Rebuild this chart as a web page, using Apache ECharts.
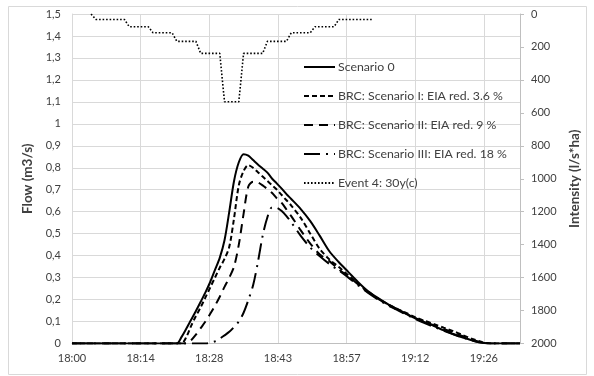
<!DOCTYPE html>
<html>
<head>
<meta charset="utf-8">
<script src="https://cdn.jsdelivr.net/npm/echarts@6/dist/echarts.min.js"></script>
<style>
  html, body { margin: 0; padding: 0; background: #ffffff; }
  #chart { width: 594px; height: 376px; }
</style>
</head>
<body>
<div id="chart"></div>
<script>
// Time in minutes after 18:00 for the flow hydrographs
const flowMinutes = [0, 20, 21, 22, 23, 24, 25, 26, 27, 28, 29, 30, 31, 32, 33, 34, 35, 36, 37, 38, 39, 40,
  41, 42, 43, 44, 45, 46, 48, 50, 52, 54, 56, 58, 60, 62, 64, 66, 68, 70, 72, 74, 76, 78, 80, 82, 84, 86, 88, 90, 94];

// Flow (m3/s)
const scenario0 = [0, 0, 0, 0, 0.03, 0.068, 0.108, 0.148, 0.19, 0.233, 0.28, 0.335, 0.39, 0.47, 0.6, 0.74, 0.825, 0.862, 0.855, 0.835, 0.815, 0.797,
  0.778, 0.75, 0.728, 0.705, 0.68, 0.658, 0.612, 0.557, 0.49, 0.42, 0.37, 0.325, 0.28, 0.24, 0.21, 0.183, 0.16, 0.137, 0.115, 0.097, 0.079, 0.06, 0.043, 0.027, 0.014, 0.003, 0, 0, 0];
const scenarioI = [0, 0, 0, 0, 0, 0.03, 0.08, 0.125, 0.165, 0.21, 0.255, 0.3, 0.345, 0.385, 0.44, 0.57, 0.72, 0.785, 0.812, 0.8, 0.78, 0.76,
  0.74, 0.72, 0.7, 0.676, 0.652, 0.628, 0.572, 0.5, 0.43, 0.383, 0.348, 0.31, 0.272, 0.238, 0.208, 0.182, 0.16, 0.14, 0.12, 0.103, 0.088, 0.072, 0.056, 0.038, 0.021, 0.007, 0, 0, 0];
const scenarioII = [0, 0, 0, 0, 0, 0, 0.015, 0.04, 0.07, 0.1, 0.135, 0.172, 0.213, 0.258, 0.3, 0.35, 0.45, 0.59, 0.715, 0.736, 0.733, 0.72,
  0.703, 0.685, 0.66, 0.64, 0.61, 0.58, 0.515, 0.455, 0.405, 0.375, 0.337, 0.305, 0.27, 0.236, 0.206, 0.18, 0.157, 0.136, 0.116, 0.098, 0.082, 0.066, 0.05, 0.033, 0.018, 0.005, 0, 0, 0];
const scenarioIII = [0, 0, 0, 0, 0, 0, 0, 0, 0, 0, 0.003, 0.01, 0.022, 0.037, 0.053, 0.075, 0.1, 0.14, 0.198, 0.265, 0.37, 0.49,
  0.575, 0.62, 0.618, 0.603, 0.58, 0.552, 0.49, 0.437, 0.397, 0.362, 0.332, 0.3, 0.265, 0.232, 0.203, 0.177, 0.155, 0.133, 0.112, 0.093, 0.075, 0.058, 0.042, 0.027, 0.014, 0.004, 0, 0, 0];

// Design storm (block rain), minutes after 18:00 and intensity (l/s*ha)
const rainMinutes = [4, 5, 11, 12, 16, 17, 21, 22, 26, 27, 31, 32, 35, 36, 40, 41, 45, 46, 50, 51, 55, 56, 63];
const rainIntensity = [0, 33, 33, 77, 77, 114, 114, 166, 166, 239, 239, 533, 533, 239, 239, 166, 166, 114, 114, 77, 77, 33, 33];

const seriesNames = [
  'Scenario 0',
  'BRC: Scenario I: EIA red. 3.6 %',
  'BRC: Scenario II: EIA red. 9 %',
  'BRC: Scenario III: EIA red. 18 %',
  'Event 4: 30y(c)'
];

const pairs = (xs, ys) => xs.map((x, i) => [x, ys[i]]);

// Axis clock labels: 18:00 plus the minute offset, truncated to whole minutes
const clockLabel = m => {
  const t = Math.floor(m + 1e-6);
  const h = 18 + Math.floor(t / 60);
  const mm = t % 60;
  return h + ':' + String(mm).padStart(2, '0');
};
const commaLabel = v => String(Math.round(v * 10) / 10).replace('.', ',');
const plainLabel = v => String(Math.round(v));

const FONT = 'Lato';
const TXT = '#404040';
const GRID = '#d9d9d9';
const AXIS = '#bfbfbf';

const flowLine = (name, values, type) => ({
  name: name,
  type: 'line',
  yAxisIndex: 0,
  data: pairs(flowMinutes, values),
  symbol: 'none',
  smooth: 0.3,
  lineStyle: { color: '#000000', width: 2, type: type, cap: 'butt' },
  itemStyle: { color: '#000000' }
});

const chart = echarts.init(document.getElementById('chart'), null, { renderer: 'canvas' });

chart.setOption({
  animation: false,
  backgroundColor: '#ffffff',
  textStyle: { fontFamily: FONT },
  graphic: [{
    type: 'rect',
    shape: { x: 8.5, y: 6.5, width: 578, height: 368 },
    style: { fill: 'none', stroke: GRID, lineWidth: 1 },
    silent: true,
    z: -10
  }],
  grid: { left: 72, right: 74, top: 14, bottom: 32.5, containLabel: false },
  legend: {
    orient: 'vertical',
    left: 298,
    top: 56,
    itemWidth: 31,
    itemHeight: 14,
    itemGap: 17,
    data: seriesNames,
    // line samples only, no marker in the middle
    itemStyle: { color: 'transparent', borderColor: 'transparent', borderWidth: 0 },
    textStyle: { fontFamily: FONT, fontSize: 12.3, color: TXT, padding: [0, 0, 0, -2] },
    inactiveColor: '#000'
  },
  xAxis: {
    type: 'value',
    min: 0,
    max: 94,
    interval: 14.4,
    axisLine: { show: true, lineStyle: { color: AXIS, width: 1 } },
    axisTick: { show: false },
    axisLabel: { formatter: clockLabel, color: TXT, fontFamily: FONT, fontSize: 11, margin: 9, showMaxLabel: false },
    splitLine: { show: true, lineStyle: { color: GRID, width: 1 } }
  },
  yAxis: [{
    type: 'value',
    min: 0,
    max: 1.5,
    interval: 0.1,
    name: 'Flow (m3/s)',
    nameLocation: 'middle',
    nameRotate: 90,
    nameGap: 34,
    nameTextStyle: { color: TXT, fontFamily: FONT, fontSize: 13.5, fontWeight: 'bold' },
    axisLine: { show: true, lineStyle: { color: GRID, width: 1 } },
    axisTick: { show: false },
    axisLabel: { formatter: commaLabel, color: TXT, fontFamily: FONT, fontSize: 11, margin: 11 },
    splitLine: { show: true, lineStyle: { color: GRID, width: 1 } }
  }, {
    type: 'value',
    position: 'right',
    inverse: true,
    min: 0,
    max: 2000,
    interval: 200,
    name: 'Intensity (l/s*ha)',
    nameLocation: 'middle',
    nameRotate: 90,
    nameGap: 46,
    nameTextStyle: { color: TXT, fontFamily: FONT, fontSize: 13.5, fontWeight: 'bold' },
    axisLine: { show: true, lineStyle: { color: AXIS, width: 1 } },
    axisTick: { show: true, inside: false, length: 4, lineStyle: { color: AXIS } },
    axisLabel: { formatter: plainLabel, color: TXT, fontFamily: FONT, fontSize: 11, margin: 11 },
    splitLine: { show: false }
  }],
  series: [
    flowLine(seriesNames[0], scenario0, 'solid'),
    flowLine(seriesNames[1], scenarioI, [5, 3]),
    flowLine(seriesNames[2], scenarioII, [9, 6]),
    flowLine(seriesNames[3], scenarioIII, [16, 6, 2, 6]),
    {
      name: seriesNames[4],
      type: 'line',
      yAxisIndex: 1,
      data: pairs(rainMinutes, rainIntensity),
      symbol: 'none',
      lineStyle: { color: '#000000', width: 1.6, type: [1.6, 1.9], cap: 'butt' },
      itemStyle: { color: '#000000' }
    }
  ]
});
</script>
</body>
</html>
